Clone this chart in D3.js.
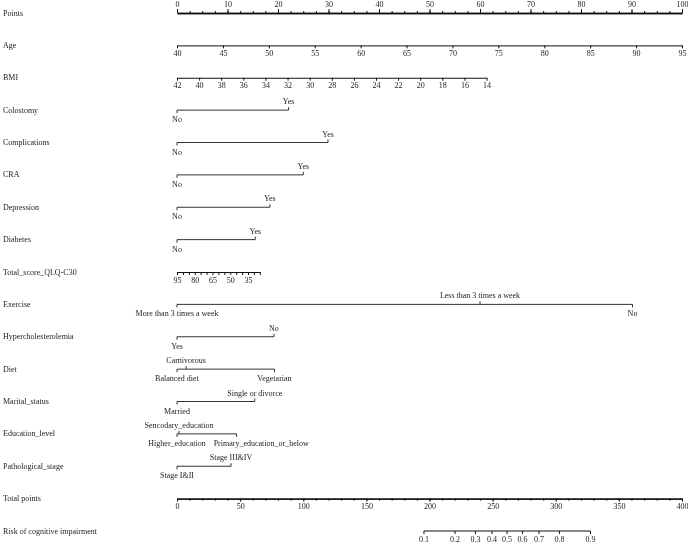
<!DOCTYPE html>
<html>

<head>
  <script src="https://d3js.org/d3.v7.min.js"></script>
  <style>
    body { margin: 0; background: #fff; }
    svg { will-change: transform; }
    text { font-family: "Liberation Serif", "Times New Roman", serif; fill: #222; }
  </style>
</head>

<body>
  <svg id="nomo" height="544" width="688"></svg>
  <script>
    // row names, top to bottom
    const rowNames = ["Points", "Age", "BMI", "Colostomy", "Complications", "CRA", "Depression", "Diabetes",
      "Total_score_QLQ-C30", "Exercise", "Hypercholesterolemia", "Diet", "Marital_status", "Education_level",
      "Pathological_stage", "Total points", "Risk of cognitive impairment"];

    // points scale ticks
    const pointTicks = d3.range(0, 101, 10);
    const pointMinor = d3.range(0, 100.1, 2.5);

    // continuous predictors: value range and points at each end
    const ageTicks = [40, 45, 50, 55, 60, 65, 70, 75, 80, 85, 90, 95];
    const ageRange = [40, 95], agePoints = [0, 100];
    const bmiTicks = [42, 40, 38, 36, 34, 32, 30, 28, 26, 24, 22, 20, 18, 16, 14];
    const bmiRange = [42, 14], bmiPoints = [0, 61.3];
    const qlqTicks = [95, 90, 85, 80, 75, 70, 65, 60, 55, 50, 45, 40, 35, 30, 25];
    const qlqLabels = [95, 80, 65, 50, 35];
    const qlqRange = [95, 25], qlqPoints = [0, 16.4];

    // categorical predictors: levels and points
    const colostomyLevels = ["No", "Yes"], colostomyPts = [0, 22.1];
    const complicationsLevels = ["No", "Yes"], complicationsPts = [0, 29.9];
    const craLevels = ["No", "Yes"], craPts = [0, 25.0];
    const depressionLevels = ["No", "Yes"], depressionPts = [0, 18.4];
    const diabetesLevels = ["No", "Yes"], diabetesPts = [0, 15.5];
    const exerciseLevels = ["More than 3 times a week", "Less than 3 times a week", "No"], exercisePts = [0, 60.0, 90.2];
    const hyperLevels = ["Yes", "No"], hyperPts = [0, 19.2];
    const dietLevels = ["Balanced diet", "Carnivorous", "Vegetarian"], dietPts = [0, 1.8, 19.3];
    const maritalLevels = ["Married", "Single or divorce"], maritalPts = [0, 15.4];
    const educationLevels = ["Higher_education", "Sencodary_education", "Primary_education_or_below"], educationPts = [0, 0.4, 11.8];
    const stageLevels = ["Stage I&II", "Stage III&IV"], stagePts = [0, 10.7];

    // total points and risk
    const totalTicks = d3.range(0, 401, 50);
    const totalMinor = d3.range(0, 401, 10);
    const riskTicks = [0.1, 0.2, 0.3, 0.4, 0.5, 0.6, 0.7, 0.8, 0.9];
    const riskAtTotal = [195.6, 220.2, 236.4, 249.5, 261.4, 273.7, 286.7, 303.0, 327.5];

    let svg = d3.select('svg#nomo');
    const left = 177, right = 682;
    const xScale = d3.scaleLinear().domain([0, 100]).range([left, right]);
    const totalScale = d3.scaleLinear().domain([0, 400]).range([left, right]);
    const yScale = d3.scalePoint().domain(rowNames).range([13, 531]);
    const fontSize = 8;

    // row titles
    svg.selectAll('.rowlabel').data(rowNames)
      .join('text')
      .attr('class', 'rowlabel')
      .attr('x', 3)
      .attr('y', d => yScale(d))
      .attr('dy', '0.32em')
      .style('font-size', fontSize + 'px')
      .text(d => d);

    function styleAxis(g, width) {
      g.select('.domain').attr('stroke', '#111').attr('stroke-width', width || 1);
      g.selectAll('.tick line').attr('stroke', '#111');
      g.selectAll('.tick text').attr('font-family', null).style('font-size', fontSize + 'px').attr('fill', '#222');
      g.attr('font-family', null);
    }

    // points axis (labels on top)
    svg.append('g')
      .attr('transform', `translate(0,${yScale("Points")})`)
      .call(d3.axisTop(xScale).tickValues(pointMinor).tickSize(2).tickSizeOuter(0).tickFormat(""))
      .call(g => styleAxis(g, 1.3));
    svg.append('g')
      .attr('transform', `translate(0,${yScale("Points")})`)
      .call(d3.axisTop(xScale).tickValues(pointTicks).tickSize(4).tickSizeOuter(0).tickPadding(2))
      .call(g => styleAxis(g, 1.3));

    // continuous predictor axes
    function contAxis(name, range, pts, ticks, labels) {
      const s = d3.scaleLinear().domain(range).range(pts.map(p => xScale(p)));
      const ax = d3.axisBottom(s).tickValues(ticks).tickSize(3).tickSizeOuter(0).tickPadding(2)
        .tickFormat(d => (labels && labels.indexOf(d) < 0) ? "" : d);
      svg.append('g')
        .attr('transform', `translate(0,${yScale(name)})`)
        .call(ax)
        .call(g => styleAxis(g));
    }
    contAxis("Age", ageRange, agePoints, ageTicks);
    contAxis("BMI", bmiRange, bmiPoints, bmiTicks);
    contAxis("Total_score_QLQ-C30", qlqRange, qlqPoints, qlqTicks, qlqLabels);

    // categorical predictor axes; labels alternate below / above in order of points
    function catAxis(name, levels, pts) {
      const y = yScale(name);
      const g = svg.append('g').attr('transform', `translate(0,${y})`);
      const items = levels.map((l, i) => ({ label: l, x: xScale(pts[i]) }))
        .sort((a, b) => a.x - b.x);
      items.forEach((d, i) => { d.above = i % 2 == 1; });
      g.append('line')
        .attr('x1', d3.min(items, d => d.x)).attr('x2', d3.max(items, d => d.x))
        .attr('stroke', '#333').attr('stroke-width', 1);
      g.selectAll('line.tk').data(items)
        .join('line')
        .attr('class', 'tk')
        .attr('x1', d => d.x).attr('x2', d => d.x)
        .attr('y1', 0).attr('y2', d => d.above ? -3 : 3)
        .attr('stroke', '#333');
      const txt = g.selectAll('text').data(items)
        .join('text')
        .attr('x', d => d.x)
        .attr('y', d => d.above ? -6 : 12)
        .style('text-anchor', 'middle')
        .style('font-size', fontSize + 'px')
        .text(d => d.label);
      // push overlapping labels on the same side to the right
      [true, false].forEach(side => {
        let lastRight = -Infinity;
        txt.filter(d => d.above == side).each(function (d) {
          const w = this.getComputedTextLength();
          let cx = d.x;
          if (cx - w / 2 < lastRight + 8) cx = lastRight + 8 + w / 2;
          d3.select(this).attr('x', cx);
          lastRight = cx + w / 2;
        });
      });
    }
    catAxis("Colostomy", colostomyLevels, colostomyPts);
    catAxis("Complications", complicationsLevels, complicationsPts);
    catAxis("CRA", craLevels, craPts);
    catAxis("Depression", depressionLevels, depressionPts);
    catAxis("Diabetes", diabetesLevels, diabetesPts);
    catAxis("Exercise", exerciseLevels, exercisePts);
    catAxis("Hypercholesterolemia", hyperLevels, hyperPts);
    catAxis("Diet", dietLevels, dietPts);
    catAxis("Marital_status", maritalLevels, maritalPts);
    catAxis("Education_level", educationLevels, educationPts);
    catAxis("Pathological_stage", stageLevels, stagePts);

    // total points axis
    svg.append('g')
      .attr('transform', `translate(0,${yScale("Total points")})`)
      .call(d3.axisBottom(totalScale).tickValues(totalMinor).tickSize(2).tickSizeOuter(0).tickFormat(""))
      .call(g => styleAxis(g, 1.3));
    svg.append('g')
      .attr('transform', `translate(0,${yScale("Total points")})`)
      .call(d3.axisBottom(totalScale).tickValues(totalTicks).tickSize(3).tickSizeOuter(0).tickPadding(2))
      .call(g => styleAxis(g, 1.3));

    // risk axis, placed along total points
    const riskScale = d3.scaleOrdinal().domain(riskTicks).range(riskAtTotal.map(t => totalScale(t)));
    const riskAxis = svg.append('g')
      .attr('transform', `translate(0,${yScale("Risk of cognitive impairment")})`);
    riskAxis.append('line')
      .attr('x1', riskScale(riskTicks[0])).attr('x2', riskScale(riskTicks[riskTicks.length - 1]))
      .attr('stroke', '#111');
    riskAxis.selectAll('line.tk').data(riskTicks)
      .join('line')
      .attr('class', 'tk')
      .attr('x1', d => riskScale(d)).attr('x2', d => riskScale(d))
      .attr('y1', 0).attr('y2', 3)
      .attr('stroke', '#111');
    riskAxis.selectAll('text').data(riskTicks)
      .join('text')
      .attr('x', d => riskScale(d))
      .attr('y', 11)
      .style('text-anchor', 'middle')
      .style('font-size', fontSize + 'px')
      .text(d => d);
  </script>
</body>

</html>
